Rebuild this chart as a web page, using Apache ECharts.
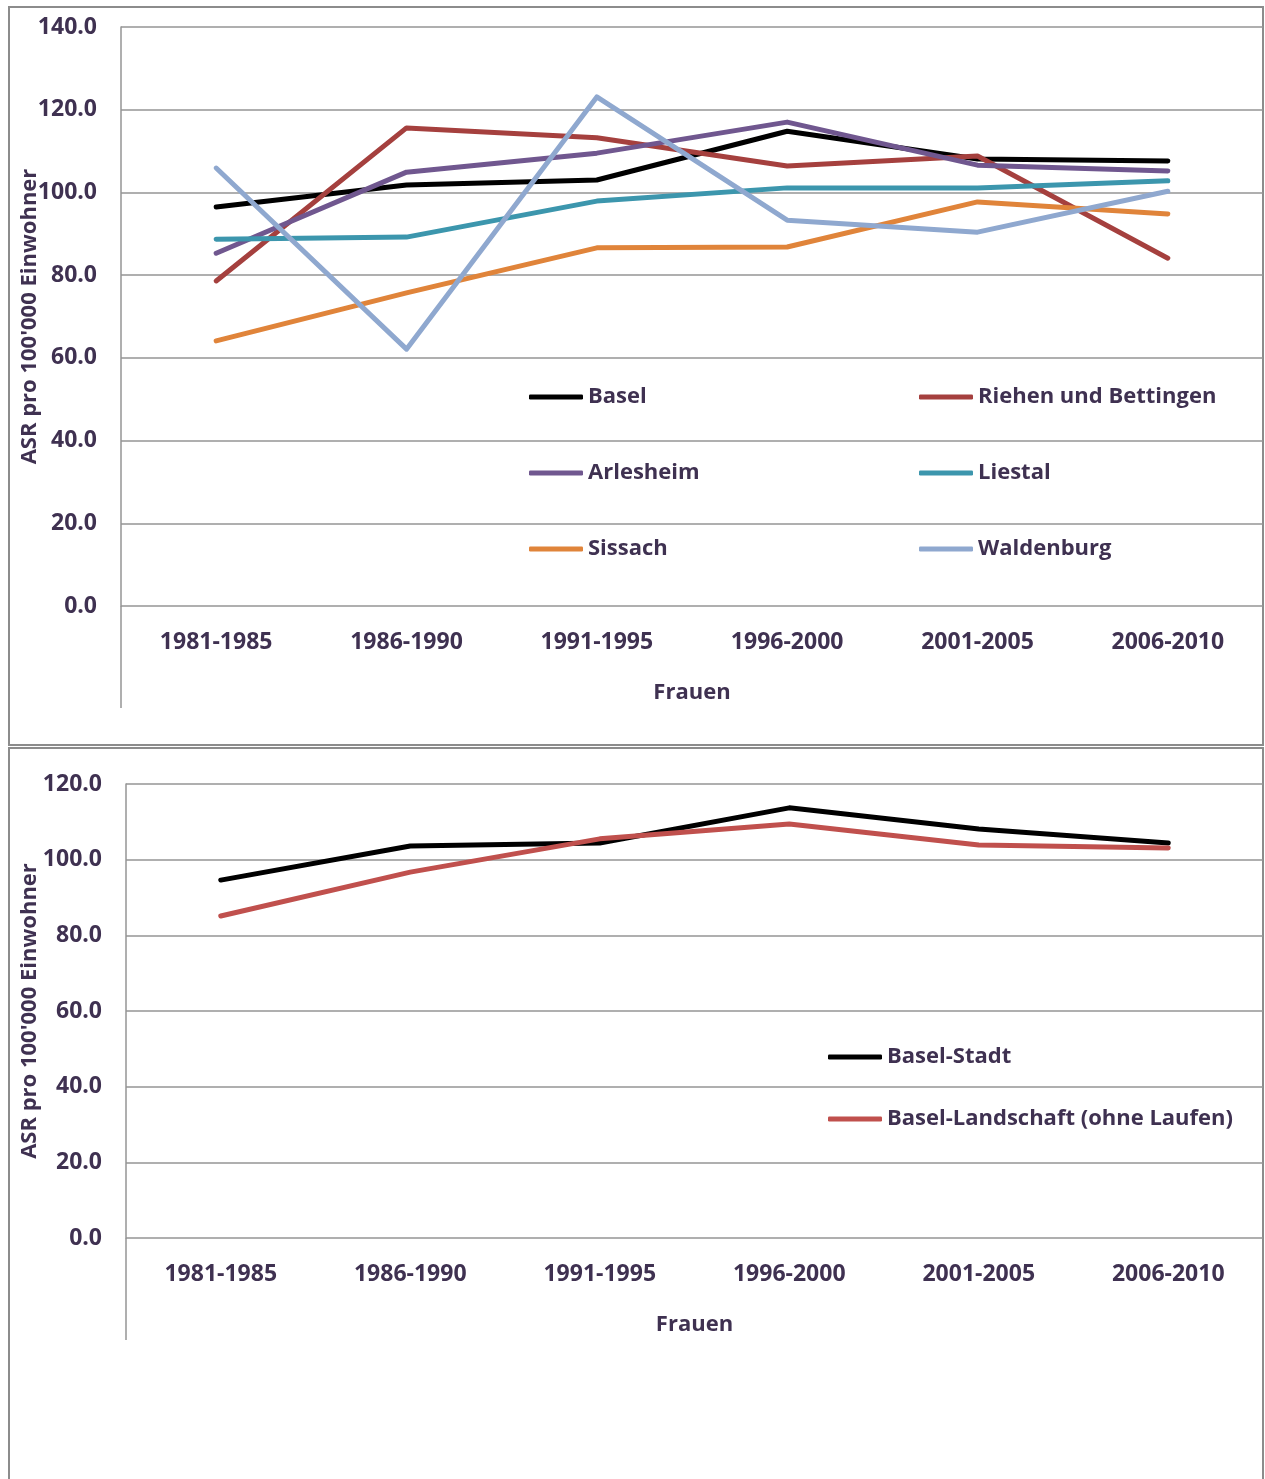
<!DOCTYPE html>
<html>
<head>
<meta charset="utf-8">
<script src="https://cdn.jsdelivr.net/npm/echarts@6/dist/echarts.min.js"></script>
<style>
  html, body { margin: 0; padding: 0; background: #fff; }
  #chart { width: 1265px; height: 1479px; }
</style>
</head>
<body>
<div id="chart"></div>
<script>
// Periods shown on both panels
const periods = ['1981-1985', '1986-1990', '1991-1995', '1996-2000', '2001-2005', '2006-2010'];

// Upper panel: regions
const basel      = [96.5, 101.8, 103.0, 114.8, 108.1, 107.6];
const riehen     = [78.6, 115.6, 113.2, 106.4, 108.8, 84.1];
const arlesheim  = [85.3, 104.9, 109.5, 117.0, 106.6, 105.2];
const liestal    = [88.7, 89.2, 97.9, 101.1, 101.1, 102.8];
const sissach    = [64.1, 75.7, 86.6, 86.8, 97.7, 94.8];
const waldenburg = [105.9, 62.1, 123.1, 93.3, 90.4, 100.3];

// Lower panel: cantons
const baselStadt      = [94.6, 103.6, 104.4, 113.7, 108.1, 104.4];
const baselLandschaft = [85.1, 96.7, 105.5, 109.4, 103.9, 103.1];

const topTicks = { min: 0, max: 140, interval: 20 };
const bottomTicks = { min: 0, max: 120, interval: 20 };

const TEXT = '#3f3151';
const GRID = '#959595';
const FRAME = '#8c8c8c';
const FONT = '"Open Sans", "Noto Sans", sans-serif';

const txt = { color: TEXT, fontFamily: FONT, fontWeight: 'bold', fontSize: 22 };
const tickTxt = Object.assign({}, txt, { fontSize: 23 });

function valueAxis(gridIndex, ticks, gap) {
  return {
    type: 'value', gridIndex,
    min: ticks.min, max: ticks.max, interval: ticks.interval,
    name: "ASR pro 100'000 Einwohner",
    nameLocation: 'middle', nameGap: gap, nameRotate: 90,
    nameMoveOverlap: false,
    nameTextStyle: Object.assign({}, txt),
    axisLine: { show: true, lineStyle: { color: GRID, width: 1.5 } },
    axisTick: { show: false },
    axisLabel: Object.assign({ margin: 24, formatter: v => v.toFixed(1) }, tickTxt),
    splitLine: { show: true, lineStyle: { color: GRID, width: 1.5 } }
  };
}

function categoryAxis(gridIndex) {
  return {
    type: 'category', gridIndex, data: periods, boundaryGap: true,
    name: 'Frauen', nameLocation: 'middle', nameGap: 76,
    nameMoveOverlap: false,
    nameTextStyle: Object.assign({}, txt),
    axisLine: { show: false },
    axisTick: { show: false },
    axisLabel: Object.assign({ margin: 25, interval: 0 }, tickTxt)
  };
}

function lineSeries(name, data, color, idx) {
  return {
    name, type: 'line', data,
    xAxisIndex: idx, yAxisIndex: idx,
    symbol: 'none', smooth: false,
    lineStyle: { color, width: 5, cap: 'round', join: 'round' },
    itemStyle: { color },
    emphasis: { disabled: true }
  };
}

function legendBlock(names, left, top, gap) {
  return {
    data: names, orient: 'vertical', left, top, padding: 0,
    itemGap: gap, itemWidth: 54, itemHeight: 5, icon: 'roundRect',
    textStyle: Object.assign({ lineHeight: 26, padding: [0, 0, 0, 0] }, txt),
    selectedMode: false
  };
}

const chart = echarts.init(document.getElementById('chart'), null, { renderer: 'canvas' });

chart.setOption({
  backgroundColor: '#ffffff',
  animation: false,
  grid: [
    { left: 121, right: 2, top: 27, height: 579, containLabel: false, outerBoundsMode: 'none' },
    { left: 126, right: 2, top: 784, height: 454, containLabel: false, outerBoundsMode: 'none' }
  ],
  xAxis: [categoryAxis(0), categoryAxis(1)],
  yAxis: [valueAxis(0, topTicks, 80), valueAxis(1, bottomTicks, 85)],
  legend: [
    legendBlock(['Basel', 'Arlesheim', 'Sissach'], 529, 384, 50),
    legendBlock(['Riehen und Bettingen', 'Liestal', 'Waldenburg'], 919, 384, 50),
    legendBlock(['Basel-Stadt', 'Basel-Landschaft (ohne Laufen)'], 828, 1044, 36)
  ],
  series: [
    lineSeries('Basel', basel, '#000000', 0),
    lineSeries('Riehen und Bettingen', riehen, '#a5403e', 0),
    lineSeries('Arlesheim', arlesheim, '#70578f', 0),
    lineSeries('Liestal', liestal, '#3c96ad', 0),
    lineSeries('Sissach', sissach, '#e0843a', 0),
    lineSeries('Waldenburg', waldenburg, '#8fa8cf', 0),
    lineSeries('Basel-Stadt', baselStadt, '#000000', 1),
    lineSeries('Basel-Landschaft (ohne Laufen)', baselLandschaft, '#c0504d', 1)
  ],
  // Chart-area frames and the extended value-axis lines below each plot
  graphic: [
    { type: 'rect', silent: true, z: 0,
      shape: { x: 9, y: 7, width: 1254, height: 738 },
      style: { fill: 'none', stroke: FRAME, lineWidth: 2 } },
    { type: 'rect', silent: true, z: 0,
      shape: { x: 9, y: 748, width: 1254, height: 760 },
      style: { fill: 'none', stroke: FRAME, lineWidth: 2 } },
    { type: 'line', silent: true,
      shape: { x1: 121, y1: 606, x2: 121, y2: 708 },
      style: { stroke: GRID, lineWidth: 1.5 } },
    { type: 'line', silent: true,
      shape: { x1: 126, y1: 1238, x2: 126, y2: 1340 },
      style: { stroke: GRID, lineWidth: 1.5 } }
  ]
});
</script>
</body>
</html>
